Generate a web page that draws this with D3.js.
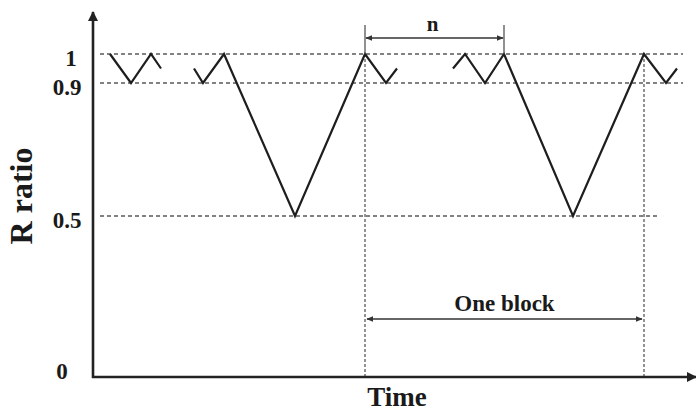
<!DOCTYPE html>
<html>
<head>
<meta charset="utf-8">
<script src="https://cdn.jsdelivr.net/npm/d3@7"></script>
<style>
  html, body { margin: 0; padding: 0; background: #fff; }
  svg text { font-family: "Liberation Serif", "Times New Roman", serif; font-weight: bold; fill: #1a1a1a; }
</style>
</head>
<body>
<div id="chart"></div>
<script>
// R ratio over time, schematic (time in arbitrary units)
const seg1 = [[17, 1], [38, 0.9], [58, 1], [68, 0.95]];
const seg2 = [[101, 0.95], [110, 0.9], [131, 1], [202, 0.5], [272, 1], [293, 0.9], [304, 0.95]];
const seg3 = [[360, 0.95], [372, 1], [392, 0.9], [411, 1], [480, 0.5], [551, 1], [573, 0.9], [584, 0.95]];
const yTicks = [0, 0.5, 0.9, 1];
const refLines = [{ v: 1, t0: 7, t1: 590 }, { v: 0.9, t0: 7, t1: 590 }, { v: 0.5, t0: 7, t1: 565 }];
const blockMarks = [272, 551];   // vertical dashed marks = one block
const nSpan = [272, 411];        // n marker
const blockLevel = 0.18;

const width = 696, height = 412;

const svg = d3.select("#chart").append("svg")
  .attr("width", width)
  .attr("height", height);

const x = d3.scaleLinear().domain([0, 600]).range([93, 693]);
// drawing is not strictly linear, so piecewise
const y = d3.scaleLinear().domain([0, 0.5, 0.9, 1]).range([377, 216, 83, 54]);

const defs = svg.append("defs");
defs.append("marker")
  .attr("id", "head")
  .attr("viewBox", "0 0 10 10")
  .attr("refX", 9).attr("refY", 5)
  .attr("markerWidth", 7).attr("markerHeight", 7)
  .attr("markerUnits", "userSpaceOnUse")
  .attr("orient", "auto-start-reverse")
  .append("path").attr("d", "M0,1L10,5L0,9Z").attr("fill", "#333");
defs.append("marker")
  .attr("id", "axhead")
  .attr("viewBox", "0 0 10 10")
  .attr("refX", 9).attr("refY", 5)
  .attr("markerWidth", 10).attr("markerHeight", 10)
  .attr("markerUnits", "userSpaceOnUse")
  .attr("orient", "auto")
  .append("path").attr("d", "M0,0L10,5L0,10Z").attr("fill", "#222");

// dashed reference lines
svg.append("g").selectAll("line")
  .data(refLines)
  .enter().append("line")
    .attr("x1", d => x(d.t0))
    .attr("x2", d => x(d.t1))
    .attr("y1", d => y(d.v))
    .attr("y2", d => y(d.v))
    .attr("stroke", "#5a5a5a")
    .attr("stroke-width", 1.7)
    .attr("stroke-dasharray", "4,3");

svg.append("g").selectAll("line")
  .data(blockMarks)
  .enter().append("line")
    .attr("x1", d => x(d)).attr("x2", d => x(d))
    .attr("y1", y(1)).attr("y2", y(0))
    .attr("stroke", "#666")
    .attr("stroke-width", 1.4)
    .attr("stroke-dasharray", "3,2");

// axes with arrows
svg.append("line")
  .attr("x1", x(0)).attr("x2", x(0))
  .attr("y1", y(0) + 1).attr("y2", 12)
  .attr("stroke", "#222").attr("stroke-width", 2.6)
  .attr("marker-end", "url(#axhead)");
svg.append("line")
  .attr("x1", x(0) - 1).attr("x2", 696)
  .attr("y1", y(0)).attr("y2", y(0))
  .attr("stroke", "#222").attr("stroke-width", 2.6)
  .attr("marker-end", "url(#axhead)");

// tick labels
svg.append("g").selectAll("text")
  .data(yTicks)
  .enter().append("text")
    .attr("x", d => d === 1 ? 71 : (d === 0 ? 62 : 67))
    .attr("y", d => d === 0 ? y(d) - 6 : y(d) + 4)
    .attr("text-anchor", "middle")
    .attr("dominant-baseline", "central")
    .style("font-size", "23px")
    .text(d => d);

// the R ratio curve
const line = d3.line().x(d => x(d[0])).y(d => y(d[1]));
svg.append("g").selectAll("path")
  .data([seg1, seg2, seg3])
  .enter().append("path")
    .attr("d", line)
    .attr("fill", "none")
    .attr("stroke", "#1e1e1e")
    .attr("stroke-width", 2.2)
    .attr("stroke-linejoin", "miter");

// n marker
const nY = y(1) - 16;
svg.append("g").selectAll("line")
  .data(nSpan)
  .enter().append("line")
    .attr("x1", d => x(d)).attr("x2", d => x(d))
    .attr("y1", y(1) - 29).attr("y2", y(1))
    .attr("stroke", "#555").attr("stroke-width", 1.3);
svg.append("line")
  .attr("x1", x(nSpan[0]) + 1).attr("x2", x(nSpan[1]) - 1)
  .attr("y1", nY).attr("y2", nY)
  .attr("stroke", "#333").attr("stroke-width", 1.6)
  .attr("marker-start", "url(#head)")
  .attr("marker-end", "url(#head)");
svg.append("text")
  .attr("x", x((nSpan[0] + nSpan[1]) / 2) - 2)
  .attr("y", nY - 7)
  .attr("text-anchor", "middle")
  .style("font-size", "21px")
  .text("n");

// one block marker
svg.append("line")
  .attr("x1", x(blockMarks[0]) + 2).attr("x2", x(blockMarks[1]) - 2)
  .attr("y1", y(blockLevel)).attr("y2", y(blockLevel))
  .attr("stroke", "#333").attr("stroke-width", 1.6)
  .attr("marker-start", "url(#head)")
  .attr("marker-end", "url(#head)");
svg.append("text")
  .attr("x", x((blockMarks[0] + blockMarks[1]) / 2))
  .attr("y", y(blockLevel) - 8)
  .attr("text-anchor", "middle")
  .style("font-size", "23px")
  .text("One block");

// axis titles
svg.append("text")
  .attr("x", 397)
  .attr("y", 406)
  .attr("text-anchor", "middle")
  .style("font-size", "27px")
  .text("Time");
svg.append("text")
  .attr("transform", "translate(32,196) rotate(-90)")
  .attr("text-anchor", "middle")
  .style("font-size", "32px")
  .text("R ratio");
</script>
</body>
</html>
